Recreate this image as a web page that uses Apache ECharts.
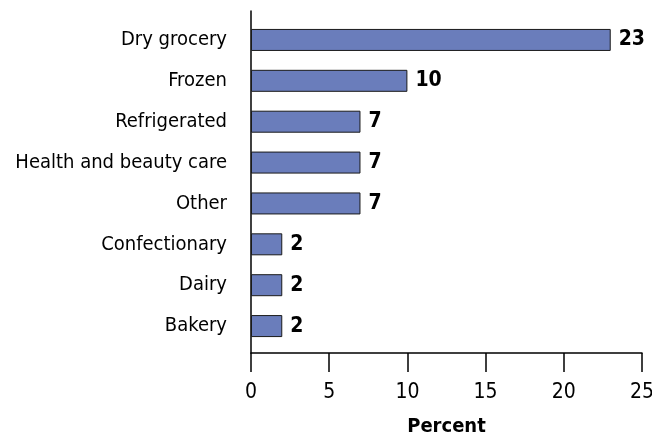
<!DOCTYPE html>
<html>
<head>
<meta charset="utf-8">
<style>
  html, body { margin: 0; padding: 0; background: #fff; }
  #chart { width: 652px; height: 436px; }
</style>
<script src="https://cdn.jsdelivr.net/npm/echarts@6/dist/echarts.min.js"></script>
</head>
<body>
<div id="chart"></div>
<script>
// Share of items by department, in percent
const categories = ['Dry grocery', 'Frozen', 'Refrigerated', 'Health and beauty care', 'Other', 'Confectionary', 'Dairy', 'Bakery'];
const percents = [23, 10, 7, 7, 7, 2, 2, 2];
const xTicks = [0, 5, 10, 15, 20, 25];

const FONT = '"DejaVu Sans Condensed", "Liberation Sans Narrow", "Liberation Sans", sans-serif';

const chart = echarts.init(document.getElementById('chart'));
chart.setOption({
  animation: false,
  backgroundColor: '#ffffff',
  grid: [
    // bars
    { left: 251, right: 10, top: 19.5, bottom: 89.5, outerBoundsMode: 'none', containLabel: false },
    // frame: axis lines, ticks and x labels
    { left: 251, right: 10, top: 11, bottom: 83, outerBoundsMode: 'none', containLabel: false }
  ],
  xAxis: [
    {
      gridIndex: 0, type: 'value', min: xTicks[0], max: xTicks[xTicks.length - 1],
      show: false
    },
    {
      gridIndex: 1, type: 'value', position: 'bottom',
      min: xTicks[0], max: xTicks[xTicks.length - 1], interval: 5,
      axisLine: { show: true, onZero: false, lineStyle: { color: '#000', width: 1.5 } },
      axisTick: { show: true, inside: false, length: 19, lineStyle: { color: '#000', width: 1.5 } },
      axisLabel: { color: '#000', fontSize: 21, fontFamily: FONT, margin: 29 },
      splitLine: { show: false },
      name: 'Percent',
      nameLocation: 'middle',
      nameGap: 64,
      nameTextStyle: { color: '#000', fontSize: 20, fontWeight: 'bold', fontFamily: FONT }
    }
  ],
  yAxis: [
    {
      gridIndex: 0, type: 'category', data: categories, inverse: true,
      axisLine: { show: false },
      axisTick: { show: false },
      axisLabel: { color: '#000', fontSize: 20, fontFamily: FONT, margin: 24 }
    },
    {
      gridIndex: 1, type: 'value', min: 0, max: 1,
      axisLine: { show: true, onZero: false, lineStyle: { color: '#000', width: 1.5 } },
      axisTick: { show: false },
      axisLabel: { show: false },
      splitLine: { show: false }
    }
  ],
  series: [
    {
      type: 'bar',
      xAxisIndex: 0,
      yAxisIndex: 0,
      data: percents,
      barWidth: 22,
      itemStyle: { color: '#6a7dbb', borderColor: '#1a1a1a', borderWidth: 1 },
      label: {
        show: true, position: 'right', distance: 8,
        color: '#000', fontSize: 21, fontWeight: 'bold', fontFamily: FONT
      }
    }
  ]
});
</script>
</body>
</html>
